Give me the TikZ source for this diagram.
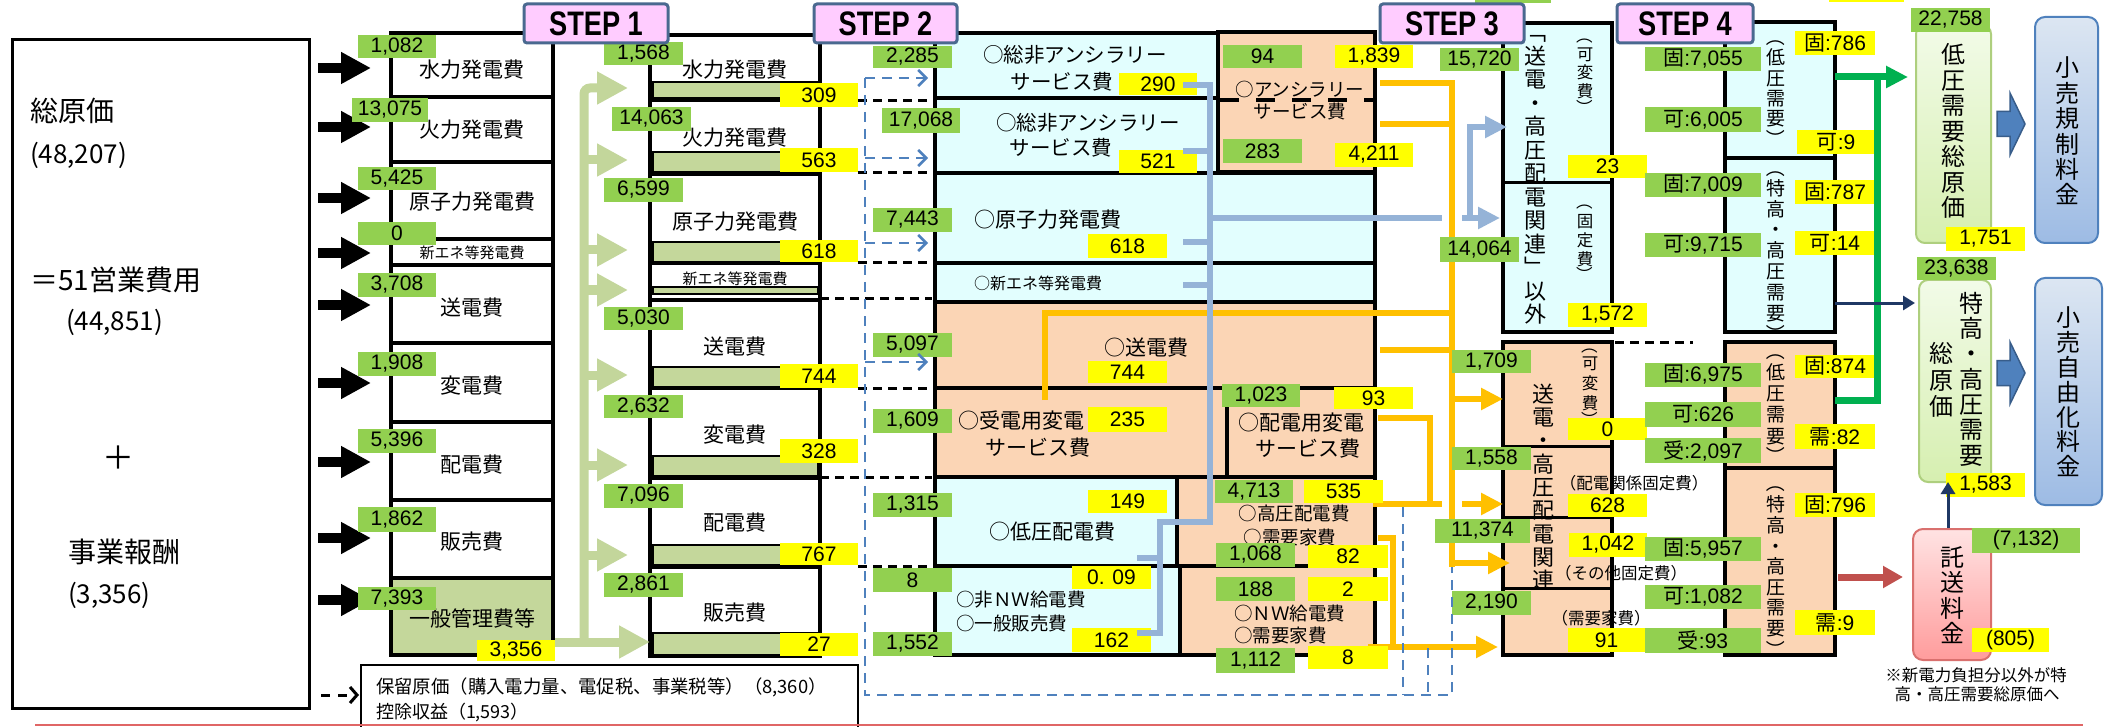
\documentclass[tikz,border=0pt]{standalone}
\usepackage{fontspec}
\setmainfont{Noto Sans CJK JP}
\newfontfamily\numf{Liberation Sans}
\usetikzlibrary{arrows.meta}
\definecolor{lg}{HTML}{92D050}
\definecolor{yl}{HTML}{FFFF00}
\definecolor{cy}{HTML}{E2FEFE}
\definecolor{pe}{HTML}{FBD5B5}
\definecolor{bar}{HTML}{C4D79B}
\definecolor{lga}{HTML}{C3D69B}
\definecolor{bl}{HTML}{95B3D7}
\definecolor{og}{HTML}{FFC000}
\definecolor{dsh}{HTML}{4F81BD}
\definecolor{dshd}{HTML}{385D8A}
\definecolor{stpf}{HTML}{FFCCFF}
\definecolor{stpd}{HTML}{4A6990}
\definecolor{gr}{HTML}{00B050}
\definecolor{rd}{HTML}{C0504D}
\definecolor{nv}{HTML}{1F3864}
\definecolor{redline}{HTML}{E06666}
\definecolor{lgt}{HTML}{F2FBE8}
\definecolor{lgb}{HTML}{D6EFB0}
\definecolor{lbord}{HTML}{AECF7E}
\definecolor{bbt}{HTML}{DCE6F2}
\definecolor{bbb}{HTML}{9DBBE4}
\definecolor{pkt}{HTML}{FFE3E3}
\definecolor{pkb}{HTML}{FF9C9C}
\definecolor{pkd}{HTML}{D9706E}
\newcommand\fs[2]{\fontsize{#1}{#2}\selectfont}
\newcommand\J[1]{{\rmfamily #1}}
\newcounter{lc}
\newcommand\lab[6]{\stepcounter{lc}\pgfmathsetmacro\lw{#4-#2}\pgfmathsetmacro\lh{#5-#3}\node[#1,minimum width=\lw pt,minimum height=\lh pt] (lab\thelc) at ({(#2+#4)/2},{(#3+#5)/2}) {#6};}
\newcommand\G[5]{\lab{glab}{#1}{#2}{#3}{#4}{#5}}
\newcommand\Y[5]{\lab{ylab}{#1}{#2}{#3}{#4}{#5}}
\newcounter{pc}
% vertical parentheses: x, y of the visible arc, font size
\newcommand\vpo[3]{\stepcounter{pc}\node[rotate=-90, font=\fs{#3}{#3}] (po\thepc) at (#1,{#2-0.25*#3}) {（};}
\newcommand\vpc[3]{\stepcounter{pc}\node[rotate=-90, font=\fs{#3}{#3}] (pc\thepc) at (#1,{#2+0.25*#3}) {）};}
\tikzset{
 glab/.style={fill=lg, font=\numf\fs{21}{21}},
 ylab/.style={fill=yl, font=\numf\fs{21}{21}},
 cell/.style={draw=black, line width=3.5pt},
 t21/.style={font=\fs{21}{21}},
 t18/.style={font=\fs{18.5}{18.5}},
 t16/.style={font=\fs{16.5}{16.5}},
 blkarr/.style={line width=10pt, -{Triangle[length=30pt,width=30pt]}},
 lgarr/.style={line width=9pt, draw=lga, -{Triangle[length=31pt,width=31pt]}},
 orarr/.style={line width=6pt, draw=og, -{Triangle[length=22pt,width=21pt]}},
 orln/.style={line width=6pt, draw=og},
 blln/.style={line width=6pt, draw=bl},
 blarr/.style={line width=6pt, draw=bl, -{Triangle[length=22pt,width=21pt]}},
 dshln/.style={line width=2.5pt, draw=dsh, dash pattern=on 10pt off 7pt},
 dsharr/.style={dshln, -{Straight Barb[length=8pt,width=16pt]}},
 bdash/.style={line width=3pt, dash pattern=on 9pt off 6pt},
 steplab/.style={draw=stpd, fill=stpf, line width=3pt, rounded corners=3pt, font=\numf\bfseries\fs{34}{34}},
 vtx/.style={align=center},
}
\begin{document}
\begin{tikzpicture}[x=1pt,y=-1pt, every node/.style={inner sep=0pt, outer sep=0pt}]
\useasboundingbox (0,0) rectangle (2114,727);
\fill[white] (0,0) rectangle (2114,727);

% ---------- left box ----------
\draw[line width=3pt] (12.5,40) rectangle (309,708);
\node[anchor=west, font=\fs{28}{28}] (t1) at (30,111) {総原価};
\node[anchor=west, font=\fs{26}{26}] (t2) at (30,155) {(48,207)};
\node[anchor=west, font=\fs{28}{28}] (t3) at (30,280) {＝51営業費用};
\node[anchor=west, font=\fs{26}{26}] (t4) at (66,322) {(44,851)};
\node[font=\fs{32}{32}] (t5) at (118,458) {＋};
\node[anchor=west, font=\fs{28}{28}] (t6) at (68,552) {事業報酬};
\node[anchor=west, font=\fs{26}{26}] (t7) at (68,595) {(3,356)};

% ---------- step 0 column ----------
\foreach \a/\b in {33/97,97/162,162/239,239/265,265/343,343/422,422/500,500/578}{\path[cell,fill=white] (391,\a) rectangle (553,\b);}
\path[cell,fill=bar] (391,578) rectangle (553,655);
\node[t21] (r0a) at (472,70) {水力発電費};
\node[t21] (r0b) at (472,130) {火力発電費};
\node[t21] (r0c) at (472,202) {原子力発電費};
\node[font=\fs{15}{15}] (r0d) at (472,253) {新エネ等発電費};
\node[t21] (r0e) at (472,308) {送電費};
\node[t21] (r0f) at (472,386) {変電費};
\node[t21] (r0g) at (472,465) {配電費};
\node[t21] (r0h) at (472,542) {販売費};
\node[t21] (r0i) at (472,618) {一般管理費等};
\foreach \y in {68,127,198,253,305,383,462,538,600}{\draw[blkarr] (318,\y) -- (371,\y);}

% ---------- step 1 column ----------
\foreach \a/\b in {35/100,100/174,174/263,263/300,300/388,388/478,478/567,567/656}{\path[cell,fill=white] (650,\a) rectangle (820,\b);}
\foreach \a/\b in {82/98,152/172,242/262,287/294,367/387,456/476,545/565,633/655}{\path[draw=black,line width=2pt,fill=bar] (653,\a) rectangle (818,\b);}
\node[t21] (r1a) at (735,70) {水力発電費};
\node[t21] (r1b) at (735,138) {火力発電費};
\node[t21] (r1c) at (735,222) {原子力発電費};
\node[font=\fs{15}{15}] (r1d) at (735,279) {新エネ等発電費};
\node[t21] (r1e) at (735,347) {送電費};
\node[t21] (r1f) at (735,435) {変電費};
\node[t21] (r1g) at (735,523) {配電費};
\node[t21] (r1h) at (735,613) {販売費};

% ---------- step 2 cells ----------
\path[cell,fill=cy] (935,33) rectangle (1218,98);
\path[cell,fill=cy] (935,98) rectangle (1218,173);
\path[cell,fill=pe] (1218,32) rectangle (1375,172);
\path[cell,fill=cy] (935,173) rectangle (1375,263);
\path[cell,fill=cy] (935,263) rectangle (1375,302);
\path[cell,fill=pe] (935,302) rectangle (1375,388);
\path[cell,fill=pe] (935,388) rectangle (1227,477);
\path[cell,fill=pe] (1227,388) rectangle (1375,477);
\path[cell,fill=cy] (935,477) rectangle (1177,566);
\path[cell,fill=pe] (1177,477) rectangle (1375,566);
\path[cell,fill=cy] (935,566) rectangle (1180,655);
\path[cell,fill=pe] (1180,566) rectangle (1375,655);
\draw[line width=4pt, dash pattern=on 19pt off 17pt] (1220,100) -- (1375,100);

\node[font=\fs{20.5}{20.5}] (c2a1) at (1075,55) {○総非アンシラリー};
\node[font=\fs{20.5}{20.5}] (c2a2) at (1062,82) {サービス費};
\node[font=\fs{20.5}{20.5}] (c2b1) at (1088,123) {○総非アンシラリー};
\node[font=\fs{20.5}{20.5}] (c2b2) at (1061,148) {サービス費};
\node[t18] (c2n1) at (1300,89) {○アンシラリー};
\node[t18] (c2n2) at (1300,112) {サービス費};
\node[t21] (c2c) at (1048,220) {○原子力発電費};
\node[font=\fs{16}{16}] (c2d) at (1038,283) {○新エネ等発電費};
\node[t21] (c2e) at (1146,348) {○送電費};
\node[t21] (c2f1) at (1021,421) {○受電用変電};
\node[t21] (c2f2) at (1038,448) {サービス費};
\node[t21] (c2g1) at (1301,423) {○配電用変電};
\node[t21] (c2g2) at (1308,449) {サービス費};
\node[t21] (c2h) at (1052,532) {○低圧配電費};
\node[t18] (c2i1) at (1294,513) {○高圧配電費};
\node[t18] (c2i2) at (1290,537) {○需要家費};
\node[t18, anchor=west] (c2j1) at (956,600) {○非ＮＷ給電費};
\node[t18, anchor=west] (c2j2) at (956,623) {○一般販売費};
\node[t18, anchor=west] (c2k1) at (1234,613) {○ＮＷ給電費};
\node[t18, anchor=west] (c2k2) at (1234,635) {○需要家費};

% ---------- step 3 ----------
\path[cell,fill=cy] (1503,23) rectangle (1612,332);
\draw[line width=3pt] (1503,183) -- (1612,183);
\path[cell,fill=pe] (1503,342) rectangle (1612,655);
\foreach \y in {446,517,588}{\draw[line width=3pt] (1503,\y) -- (1612,\y);}
\node[vtx, font=\fs{22}{23.5}] (v3a) at (1535,180) {﹁\\送\\電\\・\\高\\圧\\配\\電\\関\\連\\﹂\\以\\外};
\node[vtx, font=\fs{16.5}{18.5}] (v3b) at (1585,73) {可\\変\\費};
\vpo{1585}{40}{16.5}\vpc{1585}{104}{16.5}
\node[vtx, font=\fs{16.5}{19}] (v3c) at (1585,240.5) {固\\定\\費};
\vpo{1585}{206}{16.5}\vpc{1585}{271}{16.5}
\node[vtx, font=\fs{22}{23.3}] (v3d) at (1543,487) {送\\電\\・\\高\\圧\\配\\電\\関\\連};
\node[vtx, font=\fs{16.5}{20}] (v3e) at (1590,384) {可\\変\\費};
\vpo{1590}{350}{16.5}\vpc{1590}{416}{16.5}
\node[t16] (h3a) at (1634,483) {（配電関係固定費）};
\node[t16] (h3b) at (1621,573) {（その他固定費）};
\node[t16] (h3c) at (1601,618) {（需要家費）};
\draw[bdash] (1615,342) -- (1693,342);

% ---------- step 4 ----------
\path[cell,fill=cy] (1725,22) rectangle (1835,158);
\path[cell,fill=cy] (1725,158) rectangle (1835,332);
\path[cell,fill=pe] (1725,342) rectangle (1835,468);
\path[cell,fill=pe] (1725,468) rectangle (1835,655);
\node[vtx, font=\fs{19}{20.2}] (v4a) at (1776,88) {低\\圧\\需\\要};
\vpo{1776}{42}{19}\vpc{1776}{134}{19}
\node[vtx, font=\fs{19}{20.8}] (v4b) at (1776,250.5) {特\\高\\・\\高\\圧\\需\\要};
\vpo{1776}{173}{19}\vpc{1776}{329}{19}
\node[vtx, font=\fs{19}{21.3}] (v4c) at (1776,404) {低\\圧\\需\\要};
\vpo{1776}{356}{19}\vpc{1776}{451}{19}
\node[vtx, font=\fs{19}{20.6}] (v4d) at (1776,566.5) {特\\高\\・\\高\\圧\\需\\要};
\vpo{1776}{488}{19}\vpc{1776}{645}{19}

% ---------- right boxes ----------
\path[draw=lbord, line width=2pt, rounded corners=9pt, top color=lgt, bottom color=lgb] (1916,25) rectangle (1991,243);
\node[vtx, font=\fs{24}{25.5}] (rb1) at (1953,131) {低\\圧\\需\\要\\総\\原\\価};
\path[draw=lbord, line width=2pt, rounded corners=9pt, top color=lgt, bottom color=lgb] (1919,280) rectangle (1991,482);
\node[vtx, font=\fs{24}{25.3}] (rb2) at (1971,379) {特\\高\\・\\高\\圧\\需\\要};
\node[vtx, font=\fs{24}{26.5}] (rb3) at (1941,380) {総\\原\\価};
\path[draw=dsh, line width=2pt, rounded corners=10pt, top color=bbt, bottom color=bbb] (2035,17) rectangle (2098,243);
\node[vtx, font=\fs{24}{25.4}] (rb4) at (2067,131) {小\\売\\規\\制\\料\\金};
\path[draw=dsh, line width=2pt, rounded corners=10pt, top color=bbt, bottom color=bbb] (2035,278) rectangle (2102,505);
\node[vtx, font=\fs{24}{24.8}] (rb5) at (2068,392) {小\\売\\自\\由\\化\\料\\金};
\path[draw=pkd, line width=2pt, rounded corners=10pt, top color=pkt, bottom color=pkb] (1913,529) rectangle (1991,660);
\node[vtx, font=\fs{24}{25.3}] (rb6) at (1952,595) {託\\送\\料\\金};
\foreach \c in {124,373}{\path[fill=dsh, draw=dshd, line width=1.5pt] (1997,\c-12.5) -- (2010,\c-12.5) -- (2010,\c-31) -- (2025,\c) -- (2010,\c+31) -- (2010,\c+12.5) -- (1997,\c+12.5) -- cycle;}
\node[font=\fs{16.5}{16.5}] (note1) at (1976,675) {※新電力負担分以外が特};
\node[font=\fs{16.5}{16.5}] (note2) at (1977,694) {高・高圧需要総原価へ};

% ---------- reserve box ----------
\draw[line width=2pt] (361,730) -- (361,665) -- (858,665) -- (858,730);
\node[anchor=west, font=\fs{18.4}{18.4}] (res1) at (376,687) {保留原価（購入電力量、電促税、事業税等）（8,360）};
\node[anchor=west, font=\fs{18}{18}] (res2) at (376,712) {控除収益（1,593）};
\draw[line width=3pt, dash pattern=on 9pt off 8pt, -{Straight Barb[length=7pt,width=16pt]}] (321,695) -- (359,695);

% ---------- orange connectors (under labels) ----------
\draw[orln] (1380,83) -- (1452,83) -- (1452,567);
\draw[orln] (1380,124) -- (1452,124);
\draw[orln] (1045,400) -- (1045,313) -- (1452,313);
\draw[orln] (1380,350) -- (1452,350);
\draw[orarr] (1452,399) -- (1503,399);
\draw[orarr] (1452,563) -- (1510,563);
\draw[orln] (1378,418) -- (1430,418) -- (1430,504);
\draw[orln] (1373,504) -- (1442,504);
\draw[orarr] (1462,504) -- (1503,504);
\draw[orln] (1378,538) -- (1393,538) -- (1393,647);
\draw[orarr] (1368,647) -- (1498,647);

% ---------- labels ----------
\G{358}{35}{436}{58}{1,082}
\G{352}{98}{428}{122}{13,075}
\G{358}{167}{436}{190}{5,425}
\G{358}{222}{436}{245}{0}
\G{358}{273}{436}{297}{3,708}
\G{358}{352}{436}{376}{1,908}
\G{358}{429}{436}{453}{5,396}
\G{358}{507}{436}{532}{1,862}
\G{358}{587}{436}{610}{7,393}
\Y{477}{640}{555}{661}{3,356}
\G{604}{42}{683}{65}{1,568}
\G{612}{107}{691}{131}{14,063}
\G{604}{178}{683}{202}{6,599}
\G{604}{307}{683}{330}{5,030}
\G{604}{395}{683}{418}{2,632}
\G{604}{484}{683}{508}{7,096}
\G{604}{573}{683}{597}{2,861}
\Y{780}{83}{858}{107}{309}
\Y{780}{148}{858}{172}{563}
\Y{780}{240}{858}{262}{618}
\Y{780}{364}{858}{388}{744}
\Y{780}{439}{858}{463}{328}
\Y{780}{543}{858}{565}{767}
\Y{780}{633}{858}{656}{27}
\G{873}{46}{952}{68}{2,285}
\G{882}{108}{960}{133}{17,068}
\G{873}{208}{952}{232}{7,443}
\G{873}{333}{952}{357}{5,097}
\G{873}{409}{952}{433}{1,609}
\G{873}{493}{952}{517}{1,315}
\G{873}{568}{952}{592}{8}
\G{873}{632}{952}{656}{1,552}
\Y{1119}{73}{1197}{95}{290}
\Y{1119}{150}{1197}{173}{521}
\Y{1088}{234}{1167}{258}{618}
\Y{1088}{361}{1167}{383}{744}
\Y{1088}{407}{1167}{432}{235}
\Y{1088}{490}{1167}{513}{149}
\Y{1072}{566}{1151}{589}{0. 09}
\Y{1072}{628}{1151}{652}{162}
\G{1223}{45}{1302}{68}{94}
\Y{1335}{45}{1413}{68}{1,839}
\G{1223}{139}{1302}{163}{283}
\Y{1335}{143}{1413}{167}{4,211}
\G{1222}{384}{1300}{407}{1,023}
\Y{1334}{387}{1413}{409}{93}
\G{1215}{480}{1293}{503}{4,713}
\Y{1304}{480}{1383}{503}{535}
\G{1216}{543}{1295}{567}{1,068}
\Y{1308}{545}{1388}{568}{82}
\G{1216}{577}{1295}{601}{188}
\Y{1308}{577}{1388}{601}{2}
\G{1216}{648}{1295}{673}{1,112}
\Y{1308}{646}{1388}{669}{8}
\Y{1568}{155}{1647}{178}{23}
\Y{1568}{303}{1647}{327}{1,572}
\G{1440}{48}{1519}{71}{15,720}
\G{1440}{237}{1519}{262}{14,064}
\Y{1568}{418}{1647}{440}{0}
\Y{1568}{494}{1647}{517}{628}
\Y{1569}{533}{1647}{557}{1,042}
\Y{1568}{628}{1645}{652}{91}
\G{1452}{350}{1531}{373}{1,709}
\G{1452}{447}{1531}{470}{1,558}
\G{1435}{519}{1530}{543}{11,374}
\G{1452}{591}{1531}{615}{2,190}
\G{1645}{47}{1761}{71}{\J{固}:7,055}
\G{1645}{107}{1761}{132}{\J{可}:6,005}
\G{1645}{173}{1761}{197}{\J{固}:7,009}
\G{1645}{233}{1761}{257}{\J{可}:9,715}
\G{1645}{363}{1761}{387}{\J{固}:6,975}
\G{1645}{402}{1761}{427}{\J{可}:626}
\G{1645}{438}{1761}{463}{\J{受}:2,097}
\G{1645}{537}{1761}{561}{\J{固}:5,957}
\G{1645}{585}{1761}{609}{\J{可}:1,082}
\G{1645}{628}{1761}{653}{\J{受}:93}
\Y{1795}{31}{1875}{55}{\J{固}:786}
\Y{1797}{130}{1875}{154}{\J{可}:9}
\Y{1795}{180}{1875}{204}{\J{固}:787}
\Y{1795}{231}{1875}{255}{\J{可}:14}
\Y{1795}{355}{1875}{378}{\J{固}:874}
\Y{1795}{424}{1875}{449}{\J{需}:82}
\Y{1795}{493}{1875}{517}{\J{固}:796}
\Y{1795}{610}{1875}{635}{\J{需}:9}
\G{1911}{8}{1990}{32}{22,758}
\Y{1946}{227}{2025}{251}{1,751}
\G{1917}{257}{1996}{280}{23,638}
\Y{1946}{473}{2025}{497}{1,583}
\G{1972}{528}{2080}{553}{(7,132)}
\Y{1972}{628}{2049}{652}{(805)}
\fill[lg] (1475,0) rectangle (1551,3);
\fill[yl] (1829,0) rectangle (1904,2);

% ---------- other connectors ----------
\draw[lgarr, rounded corners=6pt] (584,642) -- (584,88) -- (628,88);
\foreach \y in {160,250,290,375,465,555}{\draw[lgarr] (584,\y) -- (628,\y);}
\draw[lgarr] (555,642) -- (650,642);
\foreach \y in {101,173,263,388,566}{\draw[bdash] (858,\y) -- (932,\y);}
\draw[bdash] (820,298) -- (932,298);
\draw[bdash] (820,477) -- (932,477);
\draw[dshln] (865,78) -- (865,695) -- (1452,695) -- (1452,567);
\draw[dshln] (1403,507) -- (1403,695);
\draw[dshln] (1428,648) -- (1428,695);
\foreach \y in {78,158,243,362}{\draw[dsharr] (865,\y) -- (928,\y);}
\draw[blln] (1183,85) -- (1210,85) -- (1210,522) -- (1160,522) -- (1160,633) -- (1137,633);
\foreach \y in {151,242,285}{\draw[blln] (1183,\y) -- (1210,\y);}
\draw[blln] (1137,558) -- (1160,558);
\draw[blln] (1210,218) -- (1442,218);
\draw[blarr] (1462,218) -- (1500,218);
\draw[blarr] (1470,221) -- (1470,127) -- (1507,127);
\draw[line width=7pt, draw=gr, -{Triangle[length=22pt,width=21pt]}] (1835,77) -- (1908,77);
\draw[line width=7pt, draw=gr] (1877,77) -- (1877,400) -- (1835,400);
\draw[line width=3pt, draw=nv, -{Triangle[length=12pt,width=14pt]}] (1835,303) -- (1915,303);
\draw[line width=7pt, draw=rd, -{Triangle[length=20pt,width=21pt]}] (1838,577) -- (1903,577);
\draw[line width=3pt, draw=nv, -{Triangle[length=12pt,width=14pt]}] (1948,528) -- (1948,482);

% ---------- STEP labels ----------
\node[steplab, minimum width=144pt, minimum height=39pt] (st1) at (596,23.5) {\scalebox{0.8}[1]{STEP 1}};
\node[steplab, minimum width=143pt, minimum height=39pt] (st2) at (885.5,23.5) {\scalebox{0.8}[1]{STEP 2}};
\node[steplab, minimum width=144pt, minimum height=39pt] (st3) at (1452,23.5) {\scalebox{0.8}[1]{STEP 3}};
\node[steplab, minimum width=136pt, minimum height=39pt] (st4) at (1685,23.5) {\scalebox{0.8}[1]{STEP 4}};

\draw[line width=2pt, draw=redline] (35,725) -- (2083,725);
\end{tikzpicture}
\end{document}
